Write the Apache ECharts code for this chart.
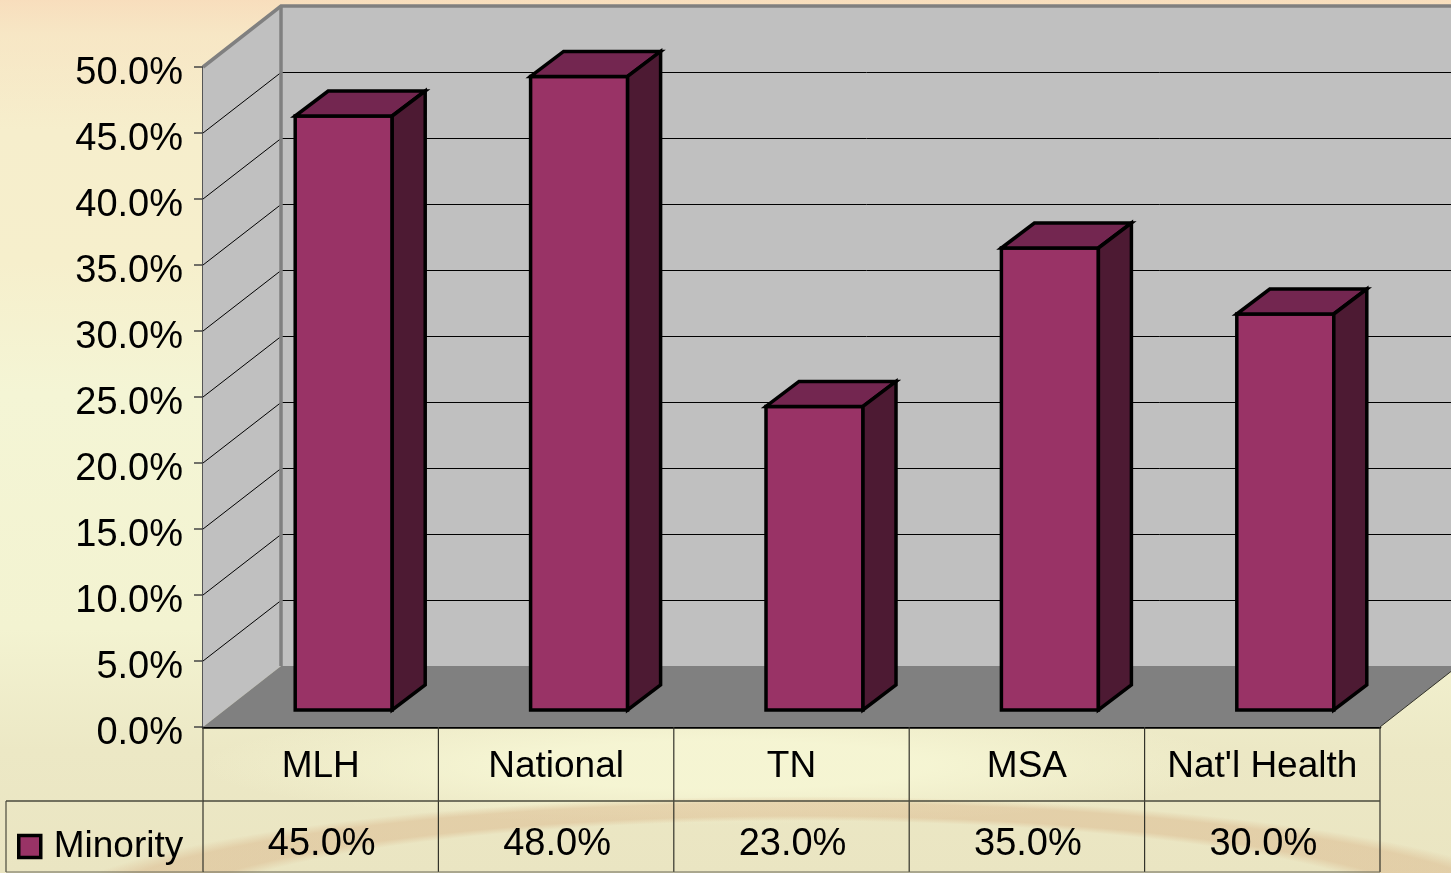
<!DOCTYPE html>
<html>
<head>
<meta charset="utf-8">
<title>Minority</title>
<script src="https://cdn.jsdelivr.net/npm/echarts@6/dist/echarts.min.js"></script>
<style>
html, body { margin: 0; padding: 0; width: 100%; height: 100%; overflow: hidden; }
body {
  background:
    radial-gradient(ellipse 780px 130px at 800px 925px, rgba(214,170,125,0) 80%, rgba(214,170,125,.38) 84%, rgba(214,170,125,.38) 94%, rgba(214,170,125,0) 99%),
    radial-gradient(ellipse 520px 60px at 720px 765px, rgba(246,246,212,.9) 40%, rgba(246,246,212,0) 100%),
    linear-gradient(to bottom, rgba(248,218,185,.8) 0, rgba(248,224,190,.5) 35px, rgba(250,236,200,0) 130px),
    linear-gradient(to bottom, #f6edcc 0, #f6efcc 30%, #f4f5d5 45%, #f3f3d1 72%, #ece8c5 86%, #eae5c2 100%);
}
#main { width: 1451px; height: 873px; }
</style>
</head>
<body>
<div id="main"></div>
<script>
var categories = ["MLH", "National", "TN", "MSA", "Nat'l Health"];
var minority = [45, 48, 23, 35, 30];
var yTicks = [0, 5, 10, 15, 20, 25, 30, 35, 40, 45, 50];

var font = '"Liberation Sans", Arial, sans-serif';
var depthX = 78, depthY = -61;
var barDepthX = 33, barDepthY = -25;
var barShiftX = 23, barShiftY = -17, barWidth = 97;

function pct(v) {
  return v.toFixed(1) + "%";
}

function poly(points, fill, stroke, width) {
  return {
    type: "polygon",
    shape: { points: points },
    style: { fill: fill, stroke: stroke || null, lineWidth: width || 0, lineJoin: "miter" }
  };
}

function line(x1, y1, x2, y2, color, width) {
  return {
    type: "line",
    shape: { x1: x1, y1: y1, x2: x2, y2: y2 },
    style: { stroke: color, lineWidth: width, fill: null }
  };
}

// side wall, back wall and floor
function renderRoom(params, api) {
  var g = params.coordSys;
  var l = g.x, r = g.x + g.width, t = g.y, b = g.y + g.height;
  return {
    type: "group",
    children: [
      poly([[l + depthX, t + depthY], [r + depthX, t + depthY], [r + depthX, b + depthY], [l + depthX, b + depthY]], "#c0c0c0"),
      poly([[l, t], [l + depthX, t + depthY], [l + depthX, b + depthY], [l, b]], "#c0c0c0")
    ]
  };
}

function renderGridline(params, api) {
  var g = params.coordSys;
  var v = api.value(0);
  var y = api.coord([0, v])[1];
  var l = g.x, r = g.x + g.width;
  if (v === 0 || v === yTicks[yTicks.length - 1]) {
    return { type: "group", children: [] };
  }
  // snap to a pixel row so the back lines stay 1px black
  var backY = Math.round(y + depthY) + 0.5;
  return {
    type: "group",
    children: [
      line(l, y, l + depthX, backY, "#000", 1),
      line(l + depthX, backY, r + depthX, backY, "#000", 1)
    ]
  };
}

function renderFloor(params, api) {
  var g = params.coordSys;
  var l = g.x, r = g.x + g.width, t = g.y, b = g.y + g.height;
  return {
    type: "group",
    children: [
      poly([[l, b], [l + depthX, b + depthY], [r + depthX, b + depthY], [r, b]], "#808080"),
      line(r, b, r + depthX, b + depthY, "#33332a", 1),
      {
        type: "polyline",
        shape: { points: [[l, t], [l + depthX, t + depthY], [r + depthX, t + depthY]] },
        style: { stroke: "#808080", lineWidth: 3.5, fill: null }
      },
      line(l + depthX, t + depthY, l + depthX, b + depthY, "#808080", 3.5)
    ]
  };
}

function renderBar(params, api) {
  var top = api.coord([api.value(0), api.value(1)]);
  var base = api.coord([api.value(0), 0]);
  var x0 = top[0] - barWidth / 2 + barShiftX, x1 = x0 + barWidth;
  var y0 = top[1] + barShiftY, y1 = base[1] + barShiftY;
  return {
    type: "group",
    children: [
      poly([[x0, y0], [x1, y0], [x1, y1], [x0, y1]], "#993366", "#000", 3.5),
      poly([[x0, y0], [x0 + barDepthX, y0 + barDepthY], [x1 + barDepthX, y0 + barDepthY], [x1, y0]], "#732650", "#000", 3.5),
      poly([[x1, y0], [x1 + barDepthX, y0 + barDepthY], [x1 + barDepthX, y1 + barDepthY], [x1, y1]], "#4d1a33", "#000", 3.5)
    ]
  };
}

// data table under the plot
function renderTable(params, api) {
  var g = params.coordSys;
  var idx = api.value(0);
  var band = api.size([1, 0])[0];
  var cx = api.coord([idx, 0])[0];
  var b = g.y + g.height;
  var rowY = b + 74;
  var bottom = 872;
  var children = [
    line(cx + band / 2, b, cx + band / 2, bottom, "#33332a", 1.2),
    line(cx - band / 2, rowY, cx + band / 2, rowY, "#4a4a3c", 1.6),
    line(cx - band / 2, bottom, cx + band / 2, bottom, "#6a6a5a", 1.2),
    {
      type: "text",
      style: {
        text: pct(api.value(1)),
        x: cx + 1,
        y: rowY + 44,
        align: "center",
        verticalAlign: "middle",
        fill: "#000",
        font: "38px " + font
      }
    }
  ];
  if (idx === 0) {
    children.push(line(cx - band / 2, b, cx - band / 2, bottom, "#33332a", 1.2));
    children.push(line(6, rowY, cx - band / 2, rowY, "#4a4a3c", 1.6));
    children.push(line(6, rowY, 6, bottom, "#4a4a3c", 1.2));
    children.push(line(6, bottom, cx - band / 2, bottom, "#6a6a5a", 1.2));
  }
  return { type: "group", children: children };
}

var chart = echarts.init(document.getElementById("main"), null, { renderer: "canvas" });

var barData = categories.map(function (c, i) { return [i, minority[i]]; });

chart.setOption({
  animation: false,
  backgroundColor: "transparent",
  textStyle: { fontFamily: font },
  grid: { left: 203, top: 67, width: 1177, height: 660 },
  legend: {
    show: true,
    left: 17,
    top: 828,
    padding: 0,
    itemWidth: 22,
    itemHeight: 22,
    itemGap: 0,
    data: [{ name: "Minority", icon: "rect" }],
    itemStyle: { color: "#993366", borderColor: "#000", borderWidth: 3.5 },
    textStyle: { fontSize: 37, color: "#000", fontFamily: font, padding: [5, 0, 0, 8] }
  },
  xAxis: {
    type: "category",
    data: categories,
    axisTick: { show: false },
    axisLine: { show: true, lineStyle: { color: "#000", width: 2.5 } },
    axisLabel: { fontSize: 37, color: "#000", fontFamily: font, margin: 21, interval: 0 },
    splitLine: { show: false }
  },
  yAxis: {
    type: "value",
    min: 0,
    max: 50,
    interval: 5,
    axisLine: { show: true, lineStyle: { color: "#555", width: 2 } },
    axisTick: { show: true, length: 9, lineStyle: { color: "#444", width: 1.5 } },
    axisLabel: { fontSize: 38, color: "#000", fontFamily: font, margin: 20, verticalAlign: "top", lineHeight: 13, formatter: pct },
    splitLine: { show: false }
  },
  series: [
    { type: "custom", name: "room", z: 1, silent: true, renderItem: renderRoom, data: [0] },
    { type: "custom", name: "gridlines", z: 2, silent: true, renderItem: renderGridline, encode: { y: 0 }, data: yTicks.map(function (v) { return [v]; }) },
    { type: "custom", name: "floor", z: 3, silent: true, renderItem: renderFloor, data: [0] },
    { type: "custom", name: "Minority", z: 4, renderItem: renderBar, encode: { x: 0, y: 1 }, data: barData },
    { type: "custom", name: "table", z: 5, silent: true, renderItem: renderTable, encode: { x: 0, y: 1 }, data: barData }
  ]
});
</script>
</body>
</html>
